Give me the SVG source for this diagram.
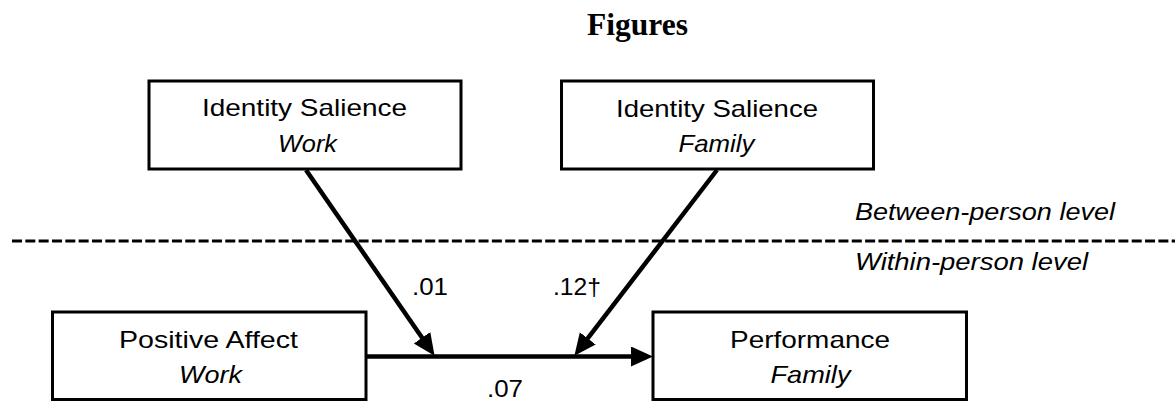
<svg xmlns="http://www.w3.org/2000/svg" width="1175" height="402" viewBox="0 0 1175 402">
<style>
.box{fill:#fff;stroke:#000;stroke-width:3}
.t{font-family:"Liberation Sans",Arial,sans-serif;font-size:24px;fill:#000}
.i{font-style:italic}
.m{text-anchor:middle}
.edge{stroke:#000;stroke-width:4.5;fill:none}
</style>
<defs>
<marker id="ah" markerUnits="userSpaceOnUse" markerWidth="23" markerHeight="21" refX="8" refY="10" orient="auto" viewBox="0 0 23 21">
<path d="M0,0 L22,10 L0,20 z" fill="#000"/>
</marker>
</defs>
<rect width="1175" height="402" fill="#fff"/>
<text x="637.5" y="35" text-anchor="middle" font-family="Liberation Serif,Times New Roman,serif" font-weight="bold" font-size="31px" textLength="101" lengthAdjust="spacingAndGlyphs">Figures</text>

<g id="connectors">
<line x1="12" y1="241" x2="1175" y2="241" stroke="#000" stroke-width="3" stroke-dasharray="10 3.33"/>
<line class="edge" x1="366" y1="356.5" x2="639" y2="356.5" marker-end="url(#ah)"/>
<line class="edge" x1="306" y1="170" x2="426.6" y2="344.3" marker-end="url(#ah)"/>
<line class="edge" x1="717" y1="170" x2="582.9" y2="344.7" marker-end="url(#ah)"/>
<text class="t" x="412" y="295" textLength="36" lengthAdjust="spacingAndGlyphs">.01</text>
<text class="t" x="553" y="295" textLength="48" lengthAdjust="spacingAndGlyphs">.12†</text>
<text class="t" x="487" y="397" textLength="36" lengthAdjust="spacingAndGlyphs">.07</text>
</g>

<g id="level-labels">
<text class="t i" x="855" y="220" textLength="260" lengthAdjust="spacingAndGlyphs">Between-person level</text>
<text class="t i" x="855" y="270" textLength="233" lengthAdjust="spacingAndGlyphs">Within-person level</text>
</g>

<g id="node-is-work">
<rect class="box" x="149" y="81" width="312" height="88"/>
<text class="t m" x="304.5" y="116" textLength="205" lengthAdjust="spacingAndGlyphs">Identity Salience</text>
<text class="t m i" x="307.5" y="152" textLength="59" lengthAdjust="spacingAndGlyphs">Work</text>
</g>

<g id="node-is-family">
<rect class="box" x="561.5" y="81" width="312" height="88"/>
<text class="t m" x="717" y="117" textLength="202" lengthAdjust="spacingAndGlyphs">Identity Salience</text>
<text class="t m i" x="716.5" y="152" textLength="76" lengthAdjust="spacingAndGlyphs">Family</text>
</g>

<g id="node-pa-work">
<rect class="box" x="52.5" y="312" width="313.5" height="87.5"/>
<text class="t m" x="208.5" y="348" textLength="179" lengthAdjust="spacingAndGlyphs">Positive Affect</text>
<text class="t m i" x="210.5" y="383" textLength="63" lengthAdjust="spacingAndGlyphs">Work</text>
</g>

<g id="node-perf-family">
<rect class="box" x="653" y="312" width="313.5" height="87.5"/>
<text class="t m" x="810" y="348" textLength="160" lengthAdjust="spacingAndGlyphs">Performance</text>
<text class="t m i" x="810.5" y="383" textLength="80" lengthAdjust="spacingAndGlyphs">Family</text>
</g>
</svg>
